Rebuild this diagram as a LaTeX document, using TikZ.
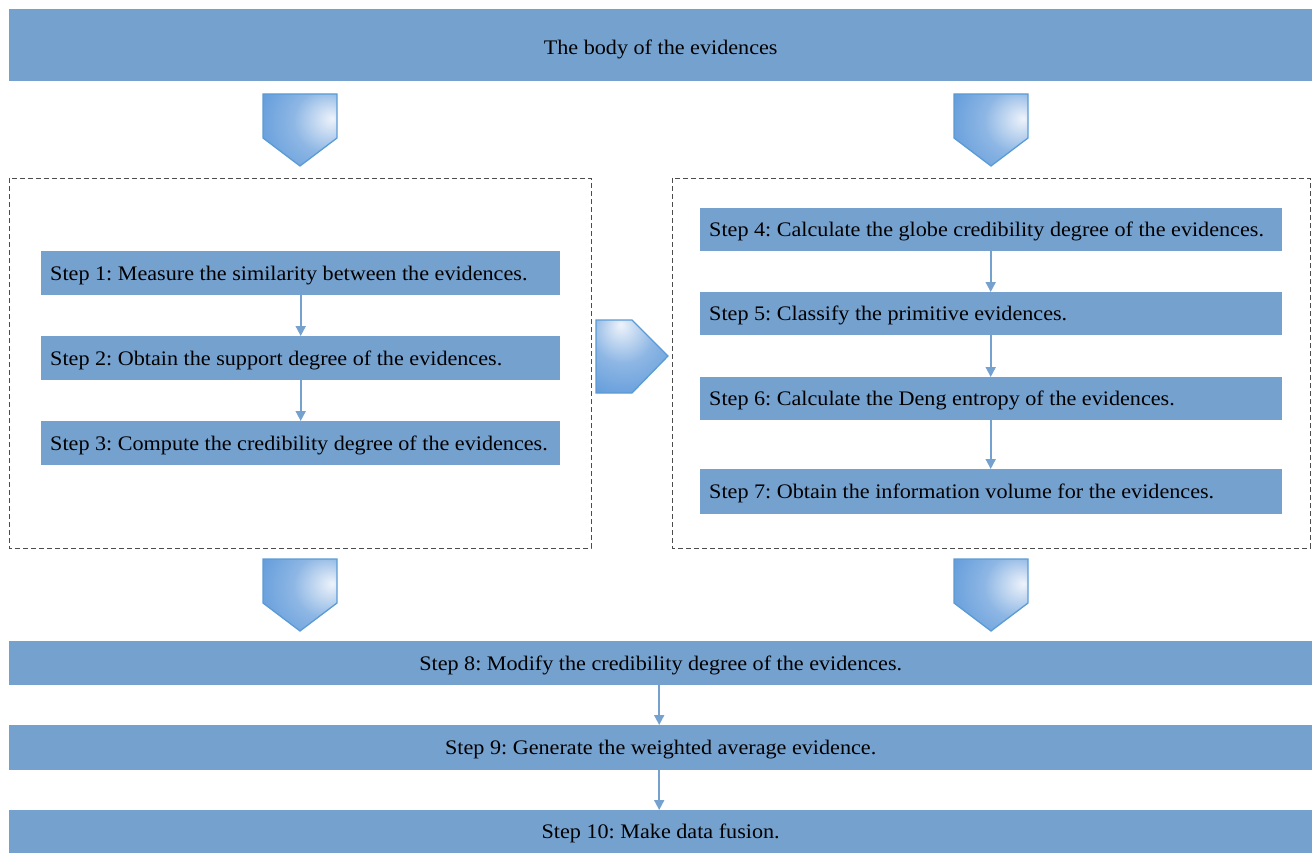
\documentclass[tikz,border=0pt]{standalone}
\usepackage{fontspec}
\setmainfont{Liberation Serif}[FakeStretch=1.07]
\usetikzlibrary{arrows.meta}
\definecolor{boxblue}{HTML}{75A1CF}
\definecolor{edgeblue}{HTML}{5B9BD5}
\definecolor{darkshade}{HTML}{4C8ED6}
\definecolor{midshade}{HTML}{8DB6E4}
\definecolor{lightshade}{HTML}{EEF3FB}
\pgfdeclareradialshading{pentshade}{\pgfpoint{22bp}{8bp}}{color(0bp)=(lightshade); color(22bp)=(midshade); color(55bp)=(darkshade); color(100bp)=(darkshade)}
\tikzset{
  stepbox/.style={fill=boxblue, draw=none, inner sep=0pt, font=\fontsize{20.7}{24}\selectfont, text depth=0.5pt},
  lbox/.style={stepbox, anchor=north west, inner xsep=9pt, align=flush left},
  conn/.style={draw=boxblue, line width=1.8pt, -{Triangle[width=10pt,length=10pt]}},
  pent/.style={draw=edgeblue, line width=1.3pt, shading=pentshade},
  dbox/.style={draw=black!70, dashed, line width=0.8pt, dash pattern=on 5pt off 3pt},
}
\begin{document}
\frenchspacing
\begin{tikzpicture}[x=1pt,y=-1pt]
\useasboundingbox (0,0) rectangle (1312,853);
% top
\node[stepbox, minimum width=1303pt, minimum height=72pt, anchor=north west, text height=18pt, text depth=0pt] (top) at (9,9) {The body of the evidences};
% pentagons down
\foreach \x/\y in {263/94, 954/94, 263/559, 954/559}{
  \draw[pent] (\x,\y) -- ++(74,0) -- ++(0,44) -- ++(-37,28) -- ++(-37,-28) -- cycle;
}
% pentagon right
\draw[pent, shading angle=90] (596,320) -- (632,320) -- (668,356) -- (632,393) -- (596,393) -- cycle;
% dashed boxes
\draw[dbox] (9,178) rectangle (591,548);
\draw[dbox] (672,178) rectangle (1310,548);
% left steps
\node[lbox, minimum width=519pt, minimum height=44pt, text width=501pt] (s1) at (41,251) {Step 1: Measure the similarity between the evidences.};
\node[lbox, minimum width=519pt, minimum height=44pt, text width=501pt] (s2) at (41,336) {Step 2: Obtain the support degree of the evidences.};
\node[lbox, minimum width=519pt, minimum height=44pt, text width=501pt] (s3) at (41,421) {Step 3: Compute the credibility degree of the evidences.};
% right steps
\node[lbox, minimum width=582pt, minimum height=43pt, text width=564pt] (s4) at (700,208) {Step 4: Calculate the globe credibility degree of the evidences.};
\node[lbox, minimum width=582pt, minimum height=43pt, text width=564pt] (s5) at (700,292) {Step 5: Classify the primitive evidences.};
\node[lbox, minimum width=582pt, minimum height=43pt, text width=564pt] (s6) at (700,377) {Step 6: Calculate the Deng entropy of the evidences.};
\node[lbox, minimum width=582pt, minimum height=45pt, text width=564pt] (s7) at (700,469) {Step 7: Obtain the information volume for the evidences.};
% bottom steps
\node[stepbox, minimum width=1303pt, minimum height=44pt, anchor=north west] (s8) at (9,641) {Step 8: Modify the credibility degree of the evidences.};
\node[stepbox, minimum width=1303pt, minimum height=45pt, anchor=north west] (s9) at (9,725) {Step 9: Generate the weighted average evidence.};
\node[stepbox, minimum width=1303pt, minimum height=43pt, anchor=north west] (s10) at (9,810) {Step 10: Make data fusion.};
% connectors
\draw[conn] (s1.south) -- (s2.north);
\draw[conn] (s2.south) -- (s3.north);
\draw[conn] ([xshift=-0.5pt]s4.south) -- ([xshift=-0.5pt]s5.north);
\draw[conn] ([xshift=-0.5pt]s5.south) -- ([xshift=-0.5pt]s6.north);
\draw[conn] ([xshift=-0.5pt]s6.south) -- ([xshift=-0.5pt]s7.north);
\draw[conn] ([xshift=-1.5pt]s8.south) -- ([xshift=-1.5pt]s9.north);
\draw[conn] ([xshift=-1.5pt]s9.south) -- ([xshift=-1.5pt]s10.north);
\end{tikzpicture}
\end{document}
